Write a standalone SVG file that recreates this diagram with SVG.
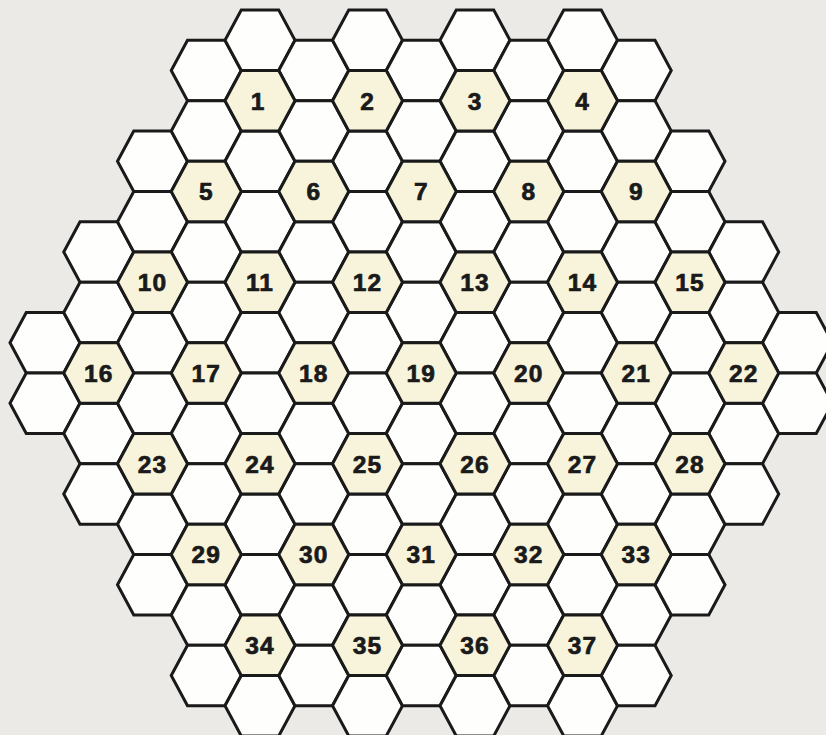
<svg xmlns="http://www.w3.org/2000/svg" xmlns:xlink="http://www.w3.org/1999/xlink" width="826" height="735" viewBox="0 0 826 735">
<defs>
<style>
.bg{fill:#ebeae6}
use{stroke:#1a1a1a;stroke-width:3;stroke-linejoin:miter}
.w{fill:#fefefc}
.n{fill:#f8f4dc}
text{font-family:"Liberation Sans",Arial,sans-serif;font-weight:bold;font-size:24.5px;fill:#1a1a1a;stroke:#1a1a1a;stroke-width:0.7px;text-anchor:middle;letter-spacing:1px}
</style>
<polygon id="h" points="-35,0 -18.75,-30.25 18.75,-30.25 35,0 18.75,30.25 -18.75,30.25"/>
</defs>
<rect class="bg" x="0" y="0" width="826" height="735"/>
<g id="cells">
<use class="w" href="#h" x="45" y="342.7"/>
<use class="w" href="#h" x="45" y="403.2"/>
<use class="w" href="#h" x="98.75" y="251.95"/>
<use class="w" href="#h" x="98.75" y="312.45"/>
<use class="w" href="#h" x="98.75" y="433.45"/>
<use class="w" href="#h" x="98.75" y="493.95"/>
<use class="w" href="#h" x="152.5" y="161.2"/>
<use class="w" href="#h" x="152.5" y="221.7"/>
<use class="w" href="#h" x="152.5" y="342.7"/>
<use class="w" href="#h" x="152.5" y="403.2"/>
<use class="w" href="#h" x="152.5" y="524.2"/>
<use class="w" href="#h" x="152.5" y="584.7"/>
<use class="w" href="#h" x="206.25" y="70.45"/>
<use class="w" href="#h" x="206.25" y="130.95"/>
<use class="w" href="#h" x="206.25" y="251.95"/>
<use class="w" href="#h" x="206.25" y="312.45"/>
<use class="w" href="#h" x="206.25" y="433.45"/>
<use class="w" href="#h" x="206.25" y="493.95"/>
<use class="w" href="#h" x="206.25" y="614.95"/>
<use class="w" href="#h" x="206.25" y="675.45"/>
<use class="w" href="#h" x="260" y="40.2"/>
<use class="w" href="#h" x="260" y="161.2"/>
<use class="w" href="#h" x="260" y="221.7"/>
<use class="w" href="#h" x="260" y="342.7"/>
<use class="w" href="#h" x="260" y="403.2"/>
<use class="w" href="#h" x="260" y="524.2"/>
<use class="w" href="#h" x="260" y="584.7"/>
<use class="w" href="#h" x="260" y="705.7"/>
<use class="w" href="#h" x="313.75" y="70.45"/>
<use class="w" href="#h" x="313.75" y="130.95"/>
<use class="w" href="#h" x="313.75" y="251.95"/>
<use class="w" href="#h" x="313.75" y="312.45"/>
<use class="w" href="#h" x="313.75" y="433.45"/>
<use class="w" href="#h" x="313.75" y="493.95"/>
<use class="w" href="#h" x="313.75" y="614.95"/>
<use class="w" href="#h" x="313.75" y="675.45"/>
<use class="w" href="#h" x="367.5" y="40.2"/>
<use class="w" href="#h" x="367.5" y="161.2"/>
<use class="w" href="#h" x="367.5" y="221.7"/>
<use class="w" href="#h" x="367.5" y="342.7"/>
<use class="w" href="#h" x="367.5" y="403.2"/>
<use class="w" href="#h" x="367.5" y="524.2"/>
<use class="w" href="#h" x="367.5" y="584.7"/>
<use class="w" href="#h" x="367.5" y="705.7"/>
<use class="w" href="#h" x="421.25" y="70.45"/>
<use class="w" href="#h" x="421.25" y="130.95"/>
<use class="w" href="#h" x="421.25" y="251.95"/>
<use class="w" href="#h" x="421.25" y="312.45"/>
<use class="w" href="#h" x="421.25" y="433.45"/>
<use class="w" href="#h" x="421.25" y="493.95"/>
<use class="w" href="#h" x="421.25" y="614.95"/>
<use class="w" href="#h" x="421.25" y="675.45"/>
<use class="w" href="#h" x="475" y="40.2"/>
<use class="w" href="#h" x="475" y="161.2"/>
<use class="w" href="#h" x="475" y="221.7"/>
<use class="w" href="#h" x="475" y="342.7"/>
<use class="w" href="#h" x="475" y="403.2"/>
<use class="w" href="#h" x="475" y="524.2"/>
<use class="w" href="#h" x="475" y="584.7"/>
<use class="w" href="#h" x="475" y="705.7"/>
<use class="w" href="#h" x="528.75" y="70.45"/>
<use class="w" href="#h" x="528.75" y="130.95"/>
<use class="w" href="#h" x="528.75" y="251.95"/>
<use class="w" href="#h" x="528.75" y="312.45"/>
<use class="w" href="#h" x="528.75" y="433.45"/>
<use class="w" href="#h" x="528.75" y="493.95"/>
<use class="w" href="#h" x="528.75" y="614.95"/>
<use class="w" href="#h" x="528.75" y="675.45"/>
<use class="w" href="#h" x="582.5" y="40.2"/>
<use class="w" href="#h" x="582.5" y="161.2"/>
<use class="w" href="#h" x="582.5" y="221.7"/>
<use class="w" href="#h" x="582.5" y="342.7"/>
<use class="w" href="#h" x="582.5" y="403.2"/>
<use class="w" href="#h" x="582.5" y="524.2"/>
<use class="w" href="#h" x="582.5" y="584.7"/>
<use class="w" href="#h" x="582.5" y="705.7"/>
<use class="w" href="#h" x="636.25" y="70.45"/>
<use class="w" href="#h" x="636.25" y="130.95"/>
<use class="w" href="#h" x="636.25" y="251.95"/>
<use class="w" href="#h" x="636.25" y="312.45"/>
<use class="w" href="#h" x="636.25" y="433.45"/>
<use class="w" href="#h" x="636.25" y="493.95"/>
<use class="w" href="#h" x="636.25" y="614.95"/>
<use class="w" href="#h" x="636.25" y="675.45"/>
<use class="w" href="#h" x="690" y="161.2"/>
<use class="w" href="#h" x="690" y="221.7"/>
<use class="w" href="#h" x="690" y="342.7"/>
<use class="w" href="#h" x="690" y="403.2"/>
<use class="w" href="#h" x="690" y="524.2"/>
<use class="w" href="#h" x="690" y="584.7"/>
<use class="w" href="#h" x="743.75" y="251.95"/>
<use class="w" href="#h" x="743.75" y="312.45"/>
<use class="w" href="#h" x="743.75" y="433.45"/>
<use class="w" href="#h" x="743.75" y="493.95"/>
<use class="w" href="#h" x="797.5" y="342.7"/>
<use class="w" href="#h" x="797.5" y="403.2"/>
</g>
<g id="n1"><use class="n" href="#h" x="260" y="100.7"/><text x="258" y="109.5">1</text></g>
<g id="n2"><use class="n" href="#h" x="367.5" y="100.7"/><text x="367.5" y="109.5">2</text></g>
<g id="n3"><use class="n" href="#h" x="475" y="100.7"/><text x="475" y="109.5">3</text></g>
<g id="n4"><use class="n" href="#h" x="582.5" y="100.7"/><text x="582.5" y="109.5">4</text></g>
<g id="n5"><use class="n" href="#h" x="206.25" y="191.45"/><text x="206.25" y="200.3">5</text></g>
<g id="n6"><use class="n" href="#h" x="313.75" y="191.45"/><text x="313.75" y="200.3">6</text></g>
<g id="n7"><use class="n" href="#h" x="421.25" y="191.45"/><text x="421.25" y="200.3">7</text></g>
<g id="n8"><use class="n" href="#h" x="528.75" y="191.45"/><text x="528.75" y="200.3">8</text></g>
<g id="n9"><use class="n" href="#h" x="636.25" y="191.45"/><text x="636.25" y="200.3">9</text></g>
<g id="n10"><use class="n" href="#h" x="152.5" y="282.2"/><text x="152.5" y="291">10</text></g>
<g id="n11"><use class="n" href="#h" x="260" y="282.2"/><text x="260" y="291">11</text></g>
<g id="n12"><use class="n" href="#h" x="367.5" y="282.2"/><text x="367.5" y="291">12</text></g>
<g id="n13"><use class="n" href="#h" x="475" y="282.2"/><text x="475" y="291">13</text></g>
<g id="n14"><use class="n" href="#h" x="582.5" y="282.2"/><text x="582.5" y="291">14</text></g>
<g id="n15"><use class="n" href="#h" x="690" y="282.2"/><text x="690" y="291">15</text></g>
<g id="n16"><use class="n" href="#h" x="98.75" y="372.95"/><text x="98.75" y="381.8">16</text></g>
<g id="n17"><use class="n" href="#h" x="206.25" y="372.95"/><text x="206.25" y="381.8">17</text></g>
<g id="n18"><use class="n" href="#h" x="313.75" y="372.95"/><text x="313.75" y="381.8">18</text></g>
<g id="n19"><use class="n" href="#h" x="421.25" y="372.95"/><text x="421.25" y="381.8">19</text></g>
<g id="n20"><use class="n" href="#h" x="528.75" y="372.95"/><text x="528.75" y="381.8">20</text></g>
<g id="n21"><use class="n" href="#h" x="636.25" y="372.95"/><text x="636.25" y="381.8">21</text></g>
<g id="n22"><use class="n" href="#h" x="743.75" y="372.95"/><text x="743.75" y="381.8">22</text></g>
<g id="n23"><use class="n" href="#h" x="152.5" y="463.7"/><text x="152.5" y="472.5">23</text></g>
<g id="n24"><use class="n" href="#h" x="260" y="463.7"/><text x="260" y="472.5">24</text></g>
<g id="n25"><use class="n" href="#h" x="367.5" y="463.7"/><text x="367.5" y="472.5">25</text></g>
<g id="n26"><use class="n" href="#h" x="475" y="463.7"/><text x="475" y="472.5">26</text></g>
<g id="n27"><use class="n" href="#h" x="582.5" y="463.7"/><text x="582.5" y="472.5">27</text></g>
<g id="n28"><use class="n" href="#h" x="690" y="463.7"/><text x="690" y="472.5">28</text></g>
<g id="n29"><use class="n" href="#h" x="206.25" y="554.45"/><text x="206.25" y="563.3">29</text></g>
<g id="n30"><use class="n" href="#h" x="313.75" y="554.45"/><text x="313.75" y="563.3">30</text></g>
<g id="n31"><use class="n" href="#h" x="421.25" y="554.45"/><text x="421.25" y="563.3">31</text></g>
<g id="n32"><use class="n" href="#h" x="528.75" y="554.45"/><text x="528.75" y="563.3">32</text></g>
<g id="n33"><use class="n" href="#h" x="636.25" y="554.45"/><text x="636.25" y="563.3">33</text></g>
<g id="n34"><use class="n" href="#h" x="260" y="645.2"/><text x="260" y="654">34</text></g>
<g id="n35"><use class="n" href="#h" x="367.5" y="645.2"/><text x="367.5" y="654">35</text></g>
<g id="n36"><use class="n" href="#h" x="475" y="645.2"/><text x="475" y="654">36</text></g>
<g id="n37"><use class="n" href="#h" x="582.5" y="645.2"/><text x="582.5" y="654">37</text></g>
<g id="connectors"></g>
</svg>
